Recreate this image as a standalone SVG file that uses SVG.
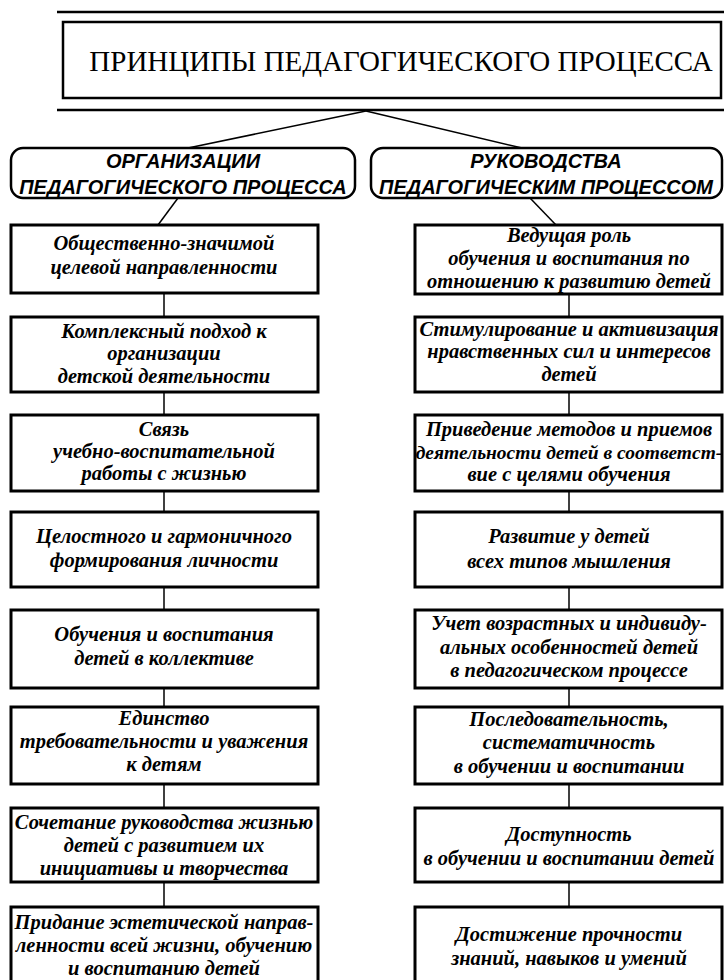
<svg xmlns="http://www.w3.org/2000/svg" width="724" height="980" viewBox="0 0 724 980">
<style>
.frame{fill:none;stroke:#000;stroke-width:2.5}
.box{fill:#fff;stroke:#000;stroke-width:3}
.hdr{fill:#fff;stroke:#000;stroke-width:2.5}
.con{fill:none;stroke:#000;stroke-width:1.5}
.t{font-family:"Liberation Serif","Times New Roman",serif;font-weight:bold;font-style:italic;font-size:20.5px;text-anchor:middle;fill:#000}
.h{font-family:"Liberation Sans",Arial,sans-serif;font-weight:bold;font-style:italic;font-size:20px;text-anchor:middle;fill:#000}
.title{font-family:"Liberation Serif","Times New Roman",serif;font-size:29px;text-anchor:middle;fill:#000}
</style>
<rect width="724" height="980" fill="#fff"/>
<g id="connectors">
<line class="con" x1="366" y1="111" x2="188" y2="148"/>
<line class="con" x1="366" y1="111" x2="522" y2="148"/>
<line class="con" x1="178" y1="198" x2="158" y2="225"/>
<line class="con" x1="530" y1="198" x2="556" y2="225"/>
<line class="con" x1="164" y1="293" x2="164" y2="317"/>
<line class="con" x1="164" y1="392" x2="164" y2="415"/>
<line class="con" x1="164" y1="491" x2="164" y2="512"/>
<line class="con" x1="164" y1="587" x2="164" y2="610"/>
<line class="con" x1="164" y1="688" x2="164" y2="707"/>
<line class="con" x1="164" y1="784" x2="164" y2="808"/>
<line class="con" x1="164" y1="882" x2="164" y2="907"/>
<line class="con" x1="569" y1="294" x2="569" y2="317"/>
<line class="con" x1="569" y1="392" x2="569" y2="415"/>
<line class="con" x1="569" y1="491" x2="569" y2="512"/>
<line class="con" x1="569" y1="587" x2="569" y2="610"/>
<line class="con" x1="569" y1="688" x2="569" y2="707"/>
<line class="con" x1="569" y1="784" x2="569" y2="808"/>
<line class="con" x1="569" y1="882" x2="569" y2="907"/>
</g>
<g id="title">
<line class="frame" x1="57" y1="12" x2="724" y2="12"/>
<line class="frame" x1="57" y1="110" x2="724" y2="110"/>
<rect class="frame" x="63" y="22" width="658" height="76"/>
<text class="title" x="401" y="71">ПРИНЦИПЫ ПЕДАГОГИЧЕСКОГО ПРОЦЕССА</text>
</g>
<g id="hdr-left">
<rect class="hdr" x="11" y="148" width="344" height="50" rx="12"/>
<text class="h" x="183" y="168">ОРГАНИЗАЦИИ</text>
<text class="h" x="183" y="194">ПЕДАГОГИЧЕСКОГО ПРОЦЕССА</text>
</g>
<g id="hdr-right">
<rect class="hdr" x="371" y="148" width="351" height="50" rx="12"/>
<text class="h" x="546" y="168">РУКОВОДСТВА</text>
<text class="h" x="546" y="194">ПЕДАГОГИЧЕСКИМ ПРОЦЕССОМ</text>
</g>
<g id="L1"><rect class="box" x="11" y="225" width="307" height="68"/>
<text class="t" x="164" y="250">Общественно-значимой</text>
<text class="t" x="164" y="274">целевой направленности</text></g>
<g id="L2"><rect class="box" x="11" y="317" width="307" height="75"/>
<text class="t" x="164" y="338">Комплексный подход к</text>
<text class="t" x="164" y="360">организации</text>
<text class="t" x="164" y="383">детской деятельности</text></g>
<g id="L3"><rect class="box" x="11" y="415" width="307" height="76"/>
<text class="t" x="164" y="436">Связь</text>
<text class="t" x="164" y="458">учебно-воспитательной</text>
<text class="t" x="164" y="480">работы с жизнью</text></g>
<g id="L4"><rect class="box" x="11" y="512" width="307" height="75"/>
<text class="t" x="164" y="543">Целостного и гармоничного</text>
<text class="t" x="164" y="567">формирования личности</text></g>
<g id="L5"><rect class="box" x="11" y="610" width="307" height="78"/>
<text class="t" x="164" y="641">Обучения и воспитания</text>
<text class="t" x="164" y="665">детей в коллективе</text></g>
<g id="L6"><rect class="box" x="11" y="707" width="307" height="77"/>
<text class="t" x="164" y="725">Единство</text>
<text class="t" x="164" y="748">требовательности и уважения</text>
<text class="t" x="164" y="771">к детям</text></g>
<g id="L7"><rect class="box" x="11" y="808" width="307" height="74"/>
<text class="t" x="164" y="829">Сочетание руководства жизнью</text>
<text class="t" x="164" y="852">детей с развитием их</text>
<text class="t" x="164" y="875">инициативы и творчества</text></g>
<g id="L8"><rect class="box" x="11" y="907" width="307" height="80"/>
<text class="t" x="164" y="929">Придание эстетической направ-</text>
<text class="t" x="164" y="952">ленности всей жизни, обучению</text>
<text class="t" x="164" y="975">и воспитанию детей</text></g>
<g id="R1"><rect class="box" x="415" y="225" width="307" height="69"/>
<text class="t" x="569" y="242">Ведущая роль</text>
<text class="t" x="569" y="265">обучения и воспитания по</text>
<text class="t" x="569" y="288">отношению к развитию детей</text></g>
<g id="R2"><rect class="box" x="415" y="317" width="307" height="75"/>
<text class="t" x="569" y="336">Стимулирование и активизация</text>
<text class="t" x="569" y="358">нравственных сил и интересов</text>
<text class="t" x="569" y="381">детей</text></g>
<g id="R3"><rect class="box" x="415" y="415" width="307" height="76"/>
<text class="t" x="569" y="436">Приведение методов и приемов</text>
<text class="t" x="569" y="459" style="font-size:19.5px">деятельности детей в соответст-</text>
<text class="t" x="569" y="481">вие с целями обучения</text></g>
<g id="R4"><rect class="box" x="415" y="512" width="307" height="75"/>
<text class="t" x="569" y="543">Развитие у детей</text>
<text class="t" x="569" y="568">всех типов мышления</text></g>
<g id="R5"><rect class="box" x="415" y="610" width="307" height="78"/>
<text class="t" x="569" y="630">Учет возрастных и индивиду-</text>
<text class="t" x="569" y="654">альных особенностей детей</text>
<text class="t" x="569" y="677">в педагогическом процессе</text></g>
<g id="R6"><rect class="box" x="415" y="707" width="307" height="77"/>
<text class="t" x="569" y="726">Последовательность,</text>
<text class="t" x="569" y="749">систематичность</text>
<text class="t" x="569" y="773">в обучении и воспитании</text></g>
<g id="R7"><rect class="box" x="415" y="808" width="307" height="74"/>
<text class="t" x="569" y="841">Доступность</text>
<text class="t" x="569" y="865">в обучении и воспитании детей</text></g>
<g id="R8"><rect class="box" x="415" y="907" width="307" height="80"/>
<text class="t" x="569" y="941">Достижение прочности</text>
<text class="t" x="569" y="965">знаний, навыков и умений</text></g>
</svg>
